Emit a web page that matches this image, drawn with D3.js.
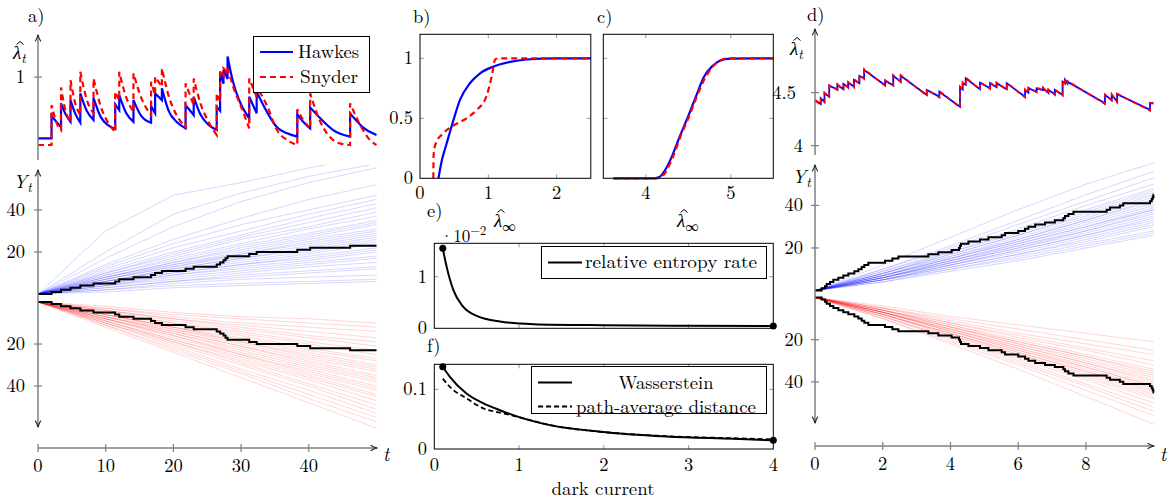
<!DOCTYPE html>
<html><head><meta charset="utf-8">
<script src="https://cdn.jsdelivr.net/npm/d3@7"></script>
<style>body{margin:0;background:#fff}</style>
</head><body>
<svg id="c" width="1173" height="502"></svg>
<script>
// ---------------- DATA ----------------
const aEvents=[2.0,3.4,4.8,6.25,8.2,11.4,12.0,14.1,16.7,17.3,18.3,21.8,23.0,26.4,26.9,27.4,27.7,28.0,31.2,32.3,38.3,40.2,46.1];
const aHawkes=[[0,0.346],[2.0,0.346],[2.0,0.584],[3.4,0.464],[3.4,0.720],[4.1,0.60],[4.8,0.523],[4.8,0.755],[5.5,0.61],[6.25,0.513],
[6.25,0.826],[7.2,0.64],[8.2,0.542],[8.2,0.779],[9.3,0.57],[10.3,0.49],[11.4,0.446],[11.4,0.709],[12.0,0.648],[12.0,0.808],[13.0,0.62],[14.1,0.523],
[14.1,0.755],[15.3,0.58],[16.7,0.513],[16.7,0.691],[17.3,0.613],[17.3,0.826],[18.3,0.755],[18.3,0.880],[19.3,0.64],[20.5,0.52],[21.8,0.453],
[21.8,0.701],[23.0,0.595],[23.0,0.790],[24.0,0.60],[25.2,0.49],[26.4,0.435],[26.4,0.683],[26.9,0.64],[26.9,1.06],[27.4,0.93],[27.4,1.08],[28.0,0.98],
[28.0,1.22],[28.8,0.95],[29.8,0.74],[31.2,0.56],[31.2,0.79],[32.3,0.613],[32.3,0.843],[33.8,0.63],[35.3,0.464],[36.8,0.40],[38.3,0.364],
[38.3,0.606],[39.2,0.52],[40.2,0.453],[40.2,0.677],[41.7,0.56],[43.6,0.435],[46.1,0.364],[46.1,0.613],[48.0,0.464],[50,0.382]];
const aSnyder=[[0,0.275],[2.0,0.275],[2.0,0.701],[2.7,0.52],[3.4,0.435],[3.4,0.890],[4.1,0.63],[4.8,0.523],[4.8,0.968],[5.5,0.72],[6.25,0.595],
[6.25,1.057],[7.2,0.76],[8.2,0.613],[8.2,0.986],[9.3,0.68],[10.3,0.52],[11.4,0.417],[11.4,0.843],[12.0,0.755],[12.0,1.057],[13.0,0.79],[14.1,0.63],
[14.1,1.04],[15.3,0.77],[16.7,0.595],[16.7,0.95],[17.3,0.81],[17.3,1.003],[18.3,0.897],[18.3,1.093],[19.3,0.80],[20.5,0.59],[21.8,0.47],
[21.8,0.933],[23.0,0.70],[23.0,0.986],[24.0,0.72],[25.2,0.52],[26.4,0.382],[26.4,0.826],[26.9,0.74],[26.9,1.075],[27.4,1.02],[27.4,1.093],[28.0,1.05],
[28.0,1.10],[29.0,0.86],[29.8,0.72],[31.2,0.453],[31.2,0.986],[32.3,0.79],[32.3,0.897],[33.8,0.70],[35.3,0.435],[36.8,0.328],[38.3,0.275],
[38.3,0.656],[39.2,0.54],[40.2,0.453],[40.2,0.826],[41.7,0.523],[43.6,0.328],[45,0.285],[46.1,0.275],[46.1,0.72],[48.0,0.435],[49,0.33],[50,0.275]];
const aGrid=[0,10,20,30,40,50];
const aBluePaths=[[30,47,53,60,66],[20,38,48,56,62],[17,32,44,53,60],[14,26,36,45,52],[13,24,33,40,47],[12,22,30,38,45],[11,20,28,36,43],
[10,19,27,34,41],[10,18,26,32,39],[9,17,24,31,37],[9,16,23,29,35],[8,15,22,28,34],[8,15,21,27,33],[8,14,20,26,31],[7,14,19,25,30],
[7,13,19,24,29],[7,13,18,23,28],[6,12,17,22,27],[6,12,17,21,26],[6,11,16,20,25],[6,11,15,19,24],[5,10,14,18,22],[5,10,14,17,21],
[5,9,13,16,20],[4,9,12,15,18],[4,8,11,14,17],[4,7,10,13,15],[3,6,9,11,13],[3,6,8,10,12],[2,5,7,8,9],[2,4,5,6,7],[1,3,4,5,6]];
const aRedPaths=[[12,24,36,48,60],[11,23,34,46,57],[11,22,33,44,55],[10,21,32,42,53],[10,20,30,40,51],[10,19,29,39,49],[9,19,28,37,47],
[9,18,27,36,45],[9,18,26,35,44],[8,17,25,34,42],[8,16,25,33,41],[8,16,24,32,40],[8,15,23,31,38],[7,15,22,30,37],[7,14,21,29,36],
[7,14,21,28,35],[7,13,20,27,33],[6,13,19,26,32],[6,12,19,25,31],[6,12,18,24,30],[6,12,17,23,28],[5,11,16,22,27],[5,10,15,20,25],
[5,10,14,19,23],[4,9,13,17,21],[4,8,12,16,19],[4,8,11,14,17],[3,7,10,12,14],[3,6,8,10,12],[2,5,7,8,10]];
const bBlue=[[0.27,0],[0.32,0.15],[0.39,0.29],[0.49,0.486],[0.585,0.653],[0.73,0.792],[0.88,0.875],[1.07,0.93],[1.32,0.97],[1.56,0.99],[2.0,1],[2.5,1]];
const bRed=[[0.195,0],[0.2,0.2],[0.23,0.29],[0.34,0.375],[0.49,0.44],[0.68,0.5],[0.83,0.57],[0.97,0.68],[1.05,0.85],[1.1,0.99],[1.15,1],[2.5,1]];
const cBlue=[[3.62,0],[4.1,0],[4.16,0.01],[4.22,0.06],[4.3,0.17],[4.4,0.35],[4.5,0.52],[4.6,0.7],[4.68,0.84],[4.79,0.94],[4.87,0.98],[5.0,0.998],[5.5,1]];
const cRed=[[3.62,0],[4.12,0],[4.18,0.01],[4.24,0.06],[4.32,0.18],[4.42,0.37],[4.5,0.5],[4.6,0.68],[4.7,0.84],[4.8,0.94],[4.9,0.99],[5.0,1],[5.5,1]];
const darkCurrentE=[0.1,0.146,0.225,0.34,0.5,0.775,1.17,2.0,3.0,4.0];
const entropyRate=[1.55,1.19,0.74,0.42,0.24,0.13,0.08,0.06,0.05,0.045];
const darkCurrentF=[0.1,0.184,0.38,0.58,0.775,1.01,1.365,1.955,2.74,3.53,4.0];
const wasserstein=[0.138,0.121,0.093,0.0765,0.065,0.053,0.040,0.029,0.021,0.017,0.0145];
const pathAverage=[0.118,0.104,0.085,0.068,0.061,0.053,0.040,0.029,0.0215,0.018,0.016];
const dEvents=[0.197,0.295,0.344,0.443,0.541,0.689,0.836,0.984,1.161,1.279,1.378,1.456,1.574,2.066,2.283,2.46,3.346,3.64,4.034,4.25,4.28,4.31,4.53,4.87,5.12,5.51,5.61,6.0,6.2,6.3,6.5,6.79,7.08,7.33,7.38,7.48,7.63,8.61,8.71,9.0,9.1,9.89,9.94,9.97,9.99];
const dHawkes=[[0,4.431],[0.17,4.393],[0.17,4.447],[0.28,4.415],[0.28,4.494],[0.42,4.462],[0.42,4.563],[0.66,4.532],[0.66,4.573],[0.84,4.532],
[0.84,4.582],[0.98,4.551],[0.98,4.594],[1.15,4.557],[1.15,4.620],[1.31,4.589],[1.31,4.658],[1.45,4.636],[1.45,4.714],[2.07,4.57],
[2.07,4.61],[2.31,4.57],[2.31,4.658],[2.53,4.604],[2.53,4.658],[3.30,4.478],[3.30,4.525],[3.67,4.462],[3.67,4.509],[4.28,4.368],
[4.28,4.55],[4.36,4.53],[4.36,4.59],[4.45,4.575],[4.45,4.636],[4.87,4.532],[4.87,4.594],[5.17,4.541],[5.17,4.589],[5.36,4.551],
[5.36,4.589],[5.66,4.532],[5.66,4.589],[6.20,4.462],[6.20,4.525],[6.30,4.50],[6.30,4.541],[6.54,4.509],[6.54,4.541],[6.74,4.525],
[6.74,4.541],[6.89,4.497],[6.89,4.525],[7.08,4.485],[7.08,4.525],[7.31,4.478],[7.31,4.604],[7.38,4.59],[7.38,4.62],[7.45,4.589],
[7.45,4.604],[8.56,4.40],[8.56,4.478],[8.76,4.43],[8.76,4.478],[8.92,4.415],[8.92,4.485],[9.89,4.337],[9.89,4.40],[9.99,4.40]];
const dSnyder=[[0,4.425],[0.17,4.385],[0.17,4.45],[0.28,4.41],[0.28,4.50],[0.42,4.455],[0.42,4.57],[0.66,4.525],[0.66,4.58],[0.84,4.525],
[0.84,4.59],[0.98,4.545],[0.98,4.60],[1.15,4.55],[1.15,4.628],[1.31,4.582],[1.31,4.665],[1.45,4.63],[1.45,4.722],[2.07,4.565],
[2.07,4.618],[2.31,4.565],[2.31,4.665],[2.53,4.60],[2.53,4.665],[3.30,4.472],[3.30,4.53],[3.67,4.455],[3.67,4.515],[4.28,4.36],
[4.28,4.555],[4.36,4.525],[4.36,4.597],[4.45,4.57],[4.45,4.645],[4.87,4.525],[4.87,4.60],[5.17,4.535],[5.17,4.595],[5.36,4.545],
[5.36,4.595],[5.66,4.525],[5.66,4.595],[6.20,4.455],[6.20,4.53],[6.30,4.495],[6.30,4.547],[6.54,4.503],[6.54,4.547],[6.74,4.52],
[6.74,4.547],[6.89,4.49],[6.89,4.53],[7.08,4.48],[7.08,4.53],[7.31,4.472],[7.31,4.61],[7.38,4.585],[7.38,4.627],[7.45,4.583],
[7.45,4.61],[8.56,4.393],[8.56,4.483],[8.76,4.425],[8.76,4.483],[8.92,4.41],[8.92,4.49],[9.89,4.33],[9.89,4.405],[9.99,4.40]];
const dGrid=[0,2,4,6,8,10];
const dBluePaths=[[12,25,38,50,60],[10,21,33,45,56],[10,20,31,42,53],[9,19,29,40,50],[9,18,28,38,48],[8,18,27,37,47],[8,17,26,36,46],
[8,17,26,35,45],[8,16,25,34,44],[7,16,24,33,43],[7,15,24,33,42],[7,15,23,32,41],[7,15,23,31,40],[7,14,22,30,39],[6,14,22,30,38],
[6,14,21,29,38],[6,13,21,28,37],[6,13,20,28,36],[6,13,20,27,35],[6,12,19,26,34],[5,12,19,26,33],[5,12,18,25,32],[5,11,17,24,31],
[5,11,17,23,30],[5,10,16,22,28],[4,10,15,21,27],[4,9,14,20,26]];
const dRedPaths=[[10,22,34,47,60],[10,21,32,44,56],[9,20,31,42,54],[9,19,30,41,52],[9,19,29,39,50],[8,18,28,38,48],[8,18,27,37,47],
[8,17,27,36,46],[8,17,26,35,45],[8,17,26,35,44],[7,16,25,34,43],[7,16,25,33,42],[7,16,24,33,42],[7,15,24,32,41],[7,15,23,31,40],
[7,15,23,31,39],[7,14,22,30,38],[6,14,22,29,37],[6,14,21,28,36],[6,13,21,28,35],[6,13,20,27,34],[6,12,19,25,32],[5,12,18,24,30],
[5,11,17,22,27],[5,10,15,20,25],[4,9,13,17,21]];
const aXTicks=[0,10,20,30,40], dXTicks=[0,2,4,6,8], yCountTicks=[20,40];
const bXTicks=[0,1,2], cXTicks=[4,5], cdfYTicks=[0,0.5,1], efXTicks=[0,1,2,3,4];

// ---------------- DRAWING ----------------
const svg=d3.select('#c');
const FONT='Latin Modern Roman';
const AX='#7f7f7f', TK='#9a9a9a';
const defs=svg.append('defs');
defs.append('marker').attr('id','arr').attr('viewBox','0 0 10 10').attr('refX',9).attr('refY',5)
 .attr('markerUnits','userSpaceOnUse').attr('markerWidth',8).attr('markerHeight',8).attr('orient','auto-start-reverse')
 .append('path').attr('d','M1,1.5 Q5,4 9.5,5 Q5,6 1,8.5').attr('fill','none').attr('stroke','#222').attr('stroke-width',1.3);

function text(x,y,s,o={}){
  const t=svg.append('text').attr('x',x).attr('y',y).text(s).attr('font-size',o.size||18.5).attr('font-family',FONT).attr('fill','#000');
  if(o.anchor)t.attr('text-anchor',o.anchor);
  if(o.italic)t.attr('font-style','italic');
  if(o.len)t.attr('textLength',o.len).attr('lengthAdjust','spacingAndGlyphs');
  return t;
}
function lambdaHat(x,y,sub){ // x left, y baseline
  const t=text(x,y,'',{size:19});
  t.append('tspan').attr('font-style','italic').text('λ');
  t.append('tspan').attr('dy',3.5).attr('font-size',13.5).attr('font-style',sub==='∞'?'normal':'italic').text(sub);
  svg.append('path').attr('d',`M${x+3.5},${y-14.5}L${x+7},${y-17.5}L${x+10.5},${y-14.5}`).attr('fill','none').attr('stroke','#000').attr('stroke-width',1);
}
function line(x1,y1,x2,y2,st,w){return svg.append('line').attr('x1',x1).attr('y1',y1).attr('x2',x2).attr('y2',y2).attr('stroke',st).attr('stroke-width',w);}
function axisArrow(x1,y1,x2,y2){ line(x1,y1,x2,y2,AX,1.5).attr('marker-end','url(#arr)'); }
function jumpPath(pts,x,y,curve){
  const segs=[];let cur=[pts[0]];
  for(let i=1;i<pts.length;i++){ if(pts[i][0]===pts[i-1][0]){segs.push(cur);cur=[pts[i]];} else cur.push(pts[i]); }
  segs.push(cur);
  const lg=d3.line().x(d=>x(d[0])).y(d=>y(d[1])).curve(curve||d3.curveMonotoneX);
  return segs.map((s,i)=>{const p=lg(s);return i?'L'+p.slice(1):p;}).join('');
}
function clip(id,x,y,w,h){defs.append('clipPath').attr('id',id).append('rect').attr('x',x).attr('y',y).attr('width',w).attr('height',h);}
function samplePaths(grid,paths,x,y,color,op,cid){
  const g=svg.append('g').attr('clip-path','url(#'+cid+')');
  const lg=d3.line().x(d=>x(d[0])).y(d=>y(d[1]));
  paths.forEach(p=>{
    const pts=grid.map((t,i)=>[t,i===0?0:p[i-1]]);
    g.append('path').attr('d',lg(pts)).attr('fill','none').attr('stroke',color).attr('stroke-opacity',op).attr('stroke-width',0.9);
  });
}
function countPath(events,tmax,x,y){
  const pts=[[0,0]].concat(events.map((t,i)=>[t,i+1])).concat([[tmax,events.length]]);
  svg.append('path').attr('d',d3.line().x(d=>x(d[0])).y(d=>y(d[1])).curve(d3.curveStepAfter)(pts))
   .attr('fill','none').attr('stroke','#000').attr('stroke-width',2);
}
function yLabel(x,y){ const t=text(x,y,'',{size:19}); t.append('tspan').attr('font-style','italic').text('Y');
  t.append('tspan').attr('dy',4).attr('font-size',13.5).attr('font-style','italic').text('t'); }

// ===== Panel a =====
const xa=d3.scaleLinear([0,50],[38,376.5]);
const la=d3.scaleLinear([0.115,1.45],[160,35]);
const yaU=d3.scaleLinear([0,59],[294,170]);
const yaL=d3.scaleLinear([0,59.5],[302,427]);
clip('caU',38,165,339,131); clip('caL',38,300,339,131);
samplePaths(aGrid,aBluePaths,xa,yaU,'#0000ff',0.18,'caU');
samplePaths(aGrid,aRedPaths,xa,yaL,'#ff0000',0.18,'caL');
countPath(aEvents,50,xa,yaU); countPath(aEvents,50,xa,yaL);
svg.append('path').attr('d',jumpPath(aHawkes,xa,la)).attr('fill','none').attr('stroke','#0000ff').attr('stroke-width',2.2);
svg.append('path').attr('d',jumpPath(aSnyder,xa,la)).attr('fill','none').attr('stroke','#ff0000').attr('stroke-width',2.2).attr('stroke-dasharray','6,4');
axisArrow(38,160,38,35);
line(34,la(1),42,la(1),AX,1.2);
text(25,la(1)+6,'1',{anchor:'end'});
lambdaHat(13,59,'t');
axisArrow(38,298,38,170); axisArrow(38,298,38,427);
yCountTicks.forEach(v=>{line(34,yaU(v),42,yaU(v),AX,1.2);text(25,yaU(v)+6,v,{anchor:'end'});
  line(34,yaL(v),42,yaL(v),AX,1.2);text(25,yaL(v)+6,v,{anchor:'end'});});
yLabel(13,188);
axisArrow(38,448,377,448);
aXTicks.forEach(v=>{line(xa(v),444,xa(v),452,AX,1.2);text(xa(v),472,v,{anchor:'middle'});});
text(383,461,'t',{italic:true,size:19});
svg.append('rect').attr('x',253.5).attr('y',36.5).attr('width',116).attr('height',56).attr('fill','#fff').attr('stroke','#000').attr('stroke-width',1);
line(260,52,293,52,'#0000ff',2.2);
line(260,77,293,77,'#ff0000',2.2).attr('stroke-dasharray','6,4');
text(298,58,'Hawkes',{len:61});
text(300,83,'Snyder',{len:58});
text(28,22,'a)');

// ===== Panel d =====
const xd=d3.scaleLinear([0,10],[815,1153.75]);
const ld=d3.scaleLinear([3.912,5.1],[155,29]);
const ydU=d3.scaleLinear([0,59],[290.5,165]);
const ydL=d3.scaleLinear([0,59.5],[297.5,423]);
clip('cdU',815,160,340,133); clip('cdL',815,295,340,133);
samplePaths(dGrid,dBluePaths,xd,ydU,'#0000ff',0.18,'cdU');
samplePaths(dGrid,dRedPaths,xd,ydL,'#ff0000',0.18,'cdL');
countPath(dEvents,10,xd,ydU); countPath(dEvents,10,xd,ydL);
svg.append('path').attr('d',jumpPath(dHawkes,xd,ld,d3.curveLinear)).attr('fill','none').attr('stroke','#0000ff').attr('stroke-width',1.8);
svg.append('path').attr('d',jumpPath(dSnyder,xd,ld,d3.curveLinear)).attr('fill','none').attr('stroke','#ff0000').attr('stroke-width',1.8).attr('stroke-dasharray','5,4');
axisArrow(815,155,815,29);
[4,4.5].forEach(v=>{line(811,ld(v),819,ld(v),AX,1.2);});
text(803,ld(4)+6,'4',{anchor:'end'}); text(796,ld(4.5)+6,'4.5',{anchor:'end'});
lambdaHat(790,55,'t');
axisArrow(815,294,815,165); axisArrow(815,294,815,423);
yCountTicks.forEach(v=>{line(811,ydU(v),819,ydU(v),AX,1.2);text(803,ydU(v)+6,v,{anchor:'end'});
  line(811,ydL(v),819,ydL(v),AX,1.2);text(803,ydL(v)+6,v,{anchor:'end'});});
yLabel(792,183);
axisArrow(815,446,1154,446);
dXTicks.forEach(v=>{line(xd(v),442,xd(v),450,AX,1.2);text(xd(v),470,v,{anchor:'middle'});});
text(1160,461,'t',{italic:true,size:19});
text(807,21,'d)');

function boxTicks(x,y,xt,yt){
  const [x0,x1]=x.range(),[y0,y1]=y.range();
  xt.forEach(v=>{const px=x(v); if(Math.abs(px-x0)<1||Math.abs(px-x1)<1)return; line(px,y0,px,y0-4,TK,1); line(px,y1,px,y1+4,TK,1);});
  yt.forEach(v=>{const py=y(v); if(Math.abs(py-y0)<1||Math.abs(py-y1)<1)return; line(x0,py,x0+4,py,TK,1); line(x1,py,x1-4,py,TK,1);});
}
function frame(x,y){const [x0,x1]=x.range(),[y0,y1]=y.range();
  svg.append('rect').attr('x',x0).attr('y',y1).attr('width',x1-x0).attr('height',y0-y1).attr('fill','none').attr('stroke','#000').attr('stroke-width',1);}
function curve(x,y,data,color,w,dash){
  const p=svg.append('path').attr('d',d3.line().x(d=>x(d[0])).y(d=>y(d[1])).curve(d3.curveMonotoneX)(data)).attr('fill','none').attr('stroke',color).attr('stroke-width',w);
  if(dash)p.attr('stroke-dasharray',dash); return p;
}

// ===== Panel b =====
const xb=d3.scaleLinear([0,2.5],[420,590.8]);
const yb=d3.scaleLinear([0,1.2],[178.3,34.3]);
boxTicks(xb,yb,bXTicks,cdfYTicks);
curve(xb,yb,bBlue,'#0000ff',2.2); curve(xb,yb,bRed,'#ff0000',2.2,'6,4');
frame(xb,yb);
cdfYTicks.forEach(v=>text(413,yb(v)+6,v,{anchor:'end'}));
bXTicks.forEach(v=>text(xb(v),199,v,{anchor:'middle'}));
text(413,23,'b)');
lambdaHat(494,227,'∞');

// ===== Panel c =====
const xc=d3.scaleLinear([3.5,5.5],[603.3,773.3]);
const yc=d3.scaleLinear([0,1.2],[178.3,34.3]);
boxTicks(xc,yc,cXTicks,cdfYTicks);
curve(xc,yc,cBlue,'#0000ff',2.2); curve(xc,yc,cRed,'#ff0000',2.2,'6,4');
frame(xc,yc);
cXTicks.forEach(v=>text(xc(v),199,v,{anchor:'middle'}));
text(597,23,'c)');
lambdaHat(677,227,'∞');

// ===== Panel e =====
const xe=d3.scaleLinear([0,4],[434.3,773.3]);
const ye=d3.scaleLinear([0,1.647],[328.3,243.3]);
boxTicks(xe,ye,efXTicks,[0,1]);
const eData=darkCurrentE.map((d,i)=>[d,entropyRate[i]]);
curve(xe,ye,eData,'#000',2);
frame(xe,ye);
[eData[0],eData[eData.length-1]].forEach(d=>svg.append('circle').attr('cx',xe(d[0])).attr('cy',ye(d[1])).attr('r',3.5).attr('fill','#000'));
text(427,ye(0)+6,'0',{anchor:'end'}); text(427,ye(1)+6,'1',{anchor:'end'});
const tt=text(440,242,'·10',{size:17}); tt.append('tspan').attr('dy',-7).attr('font-size',12.5).text('−2');
svg.append('rect').attr('x',541.5).attr('y',246.5).attr('width',225).attr('height',32).attr('fill','#fff').attr('stroke','#000').attr('stroke-width',1);
line(548,262.5,582,262.5,'#000',2);
text(585,268,'relative entropy rate',{len:172});
text(427,217,'e)');

// ===== Panel f =====
const xf=d3.scaleLinear([0,4],[434.3,773.3]);
const yf=d3.scaleLinear([0,0.142],[449,364.3]);
boxTicks(xf,yf,efXTicks,[0,0.1]);
const fW=darkCurrentF.map((d,i)=>[d,wasserstein[i]]), fP=darkCurrentF.map((d,i)=>[d,pathAverage[i]]);
curve(xf,yf,fP,'#000',1.8,'5,3');
curve(xf,yf,fW,'#000',2);
frame(xf,yf);
[fW[0],fW[fW.length-1]].forEach(d=>svg.append('circle').attr('cx',xf(d[0])).attr('cy',yf(d[1])).attr('r',3.5).attr('fill','#000'));
text(427,yf(0)+6,'0',{anchor:'end'}); text(427,yf(0.1)+6,'0.1',{anchor:'end'});
efXTicks.forEach(v=>text(xf(v),471,v,{anchor:'middle'}));
svg.append('rect').attr('x',531.5).attr('y',366.5).attr('width',235).attr('height',47).attr('fill','#fff').attr('stroke','#000').attr('stroke-width',1);
line(538,382.5,572,382.5,'#000',2);
line(538,406.5,572,406.5,'#000',2).attr('stroke-dasharray','5,3');
text(666,389,'Wasserstein',{len:95,anchor:'middle'});
text(576,413,'path-average distance',{len:180});
text(603,495,'dark current',{len:103,anchor:'middle'});
text(427,352,'f)');
</script>
</body></html>
